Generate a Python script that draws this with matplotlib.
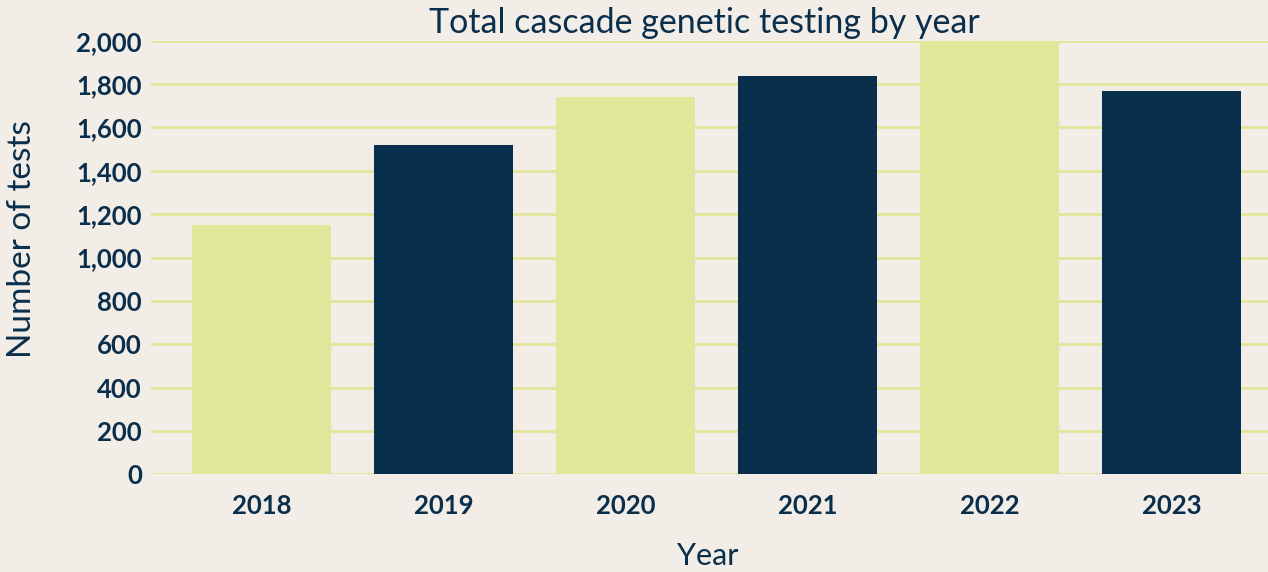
import numpy as np
from matplotlib import pyplot as plt
from matplotlib.ticker import FuncFormatter

years = ['2018', '2019', '2020', '2021', '2022', '2023']
tests = [1150, 1520, 1740, 1835, 2000, 1770]

light = '#e0e79b'
navy = '#0a2f4c'
bg = '#f2ede7'
bar_colors = [light, navy, light, navy, light, navy]

plt.rcParams['font.family'] = ['Lato', 'DejaVu Sans']

fig = plt.figure(figsize=(12.68, 5.72), dpi=100, facecolor=bg)
ax = fig.add_axes([0.1191, 0.1705, 0.8809, 0.7584])
ax.set_facecolor(bg)

x = np.arange(len(years))
ax.bar(x, tests, width=0.764, color=bar_colors, zorder=3)

ax.set_ylim(0, 2000)
ax.set_xlim(-0.607, 5.53)
ax.set_yticks(np.arange(0, 2001, 200))
ax.yaxis.set_major_formatter(FuncFormatter(lambda v, p: f'{int(v):,}'))
ax.set_xticks(x)
ax.set_xticklabels(years)

ax.grid(axis='y', color=light, linewidth=2, zorder=0)
for s in ax.spines.values():
    s.set_visible(False)
ax.tick_params(axis='both', length=0, colors=navy, labelsize=18.5)
ax.tick_params(axis='y', pad=6.5)
ax.tick_params(axis='x', pad=14)
for lbl in ax.get_xticklabels() + ax.get_yticklabels():
    lbl.set_fontweight('bold')

# title placed by baseline just above the top gridline
fig.text(704 / 1268, 1 - 33 / 572, 'Total cascade genetic testing by year',
         fontsize=24.5, color=navy, ha='center', va='baseline')
ax.set_ylabel('Number of tests', fontsize=24, color=navy)
ax.yaxis.set_label_coords(-0.102, 0.543)
ax.set_xlabel('Year', fontsize=22, color=navy)
ax.xaxis.set_label_coords(0.4987, -0.156)

plt.savefig('out.png', dpi=100, facecolor=bg)
